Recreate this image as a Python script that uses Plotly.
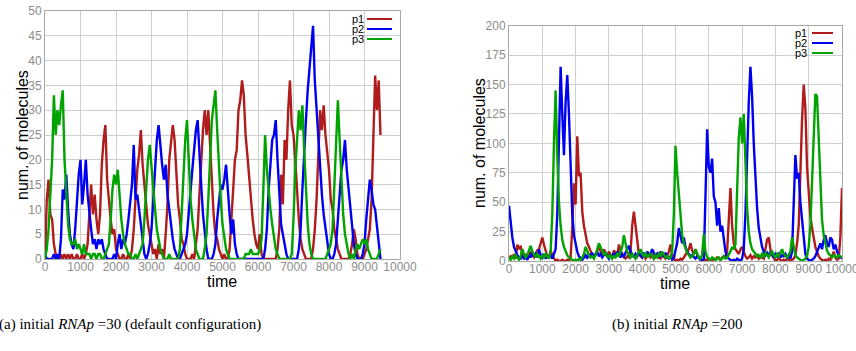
import plotly.graph_objects as go

W, H = 856, 351

# ---------------- data: panel (a) initial RNAp = 30 ----------------
TIME_A = list(range(0, 9451, 50))
P1_A = [0,12,16,9,8,3,1,0,0,1, 0,1,0,1,0,1,0,0,1,0,
        0,1,0,1,3,8,15,9,13,8, 5,9,19,24,27,16,11,8,5,6,
        2,1,0,0,1,0,0,1,0,2, 6,12,18,21,26,19,15,11,7,5,
        3,1,2,0,3,1,2,0,5,11, 20,23,27,24,17,11,8,4,3,1,
        0,0,0,1,0,3,6,13,21,26, 30,25,30,22,16,9,5,4,2,1,
        0,1,0,0,2,8,14,20,22,30, 32,36,33,25,21,16,12,8,5,3,
        2,5,1,0,0,0,0,0,0,0, 0,2,6,17,11,24,20,30,36,27,
        25,20,13,8,4,2,1,0,0,0, 0,2,6,12,22,30,26,31,25,22,
        18,12,10,6,4,2,1,0,0,0, 0,0,1,3,6,4,1,0,0,0,
        1,2,4,6,12,24,37,30,36,25]
P2_A = [1,0,0,0,0,1,0,1,0,4, 14,12,17,10,5,3,2,6,12,17,
        20,11,15,20,13,9,6,3,4,2, 4,3,4,2,1,0,0,0,0,1,
        0,3,5,2,4,3,5,8,12,15, 23,12,13,10,6,3,1,0,1,3,
        6,12,18,24,27,22,19,16,19,13, 10,6,4,2,1,0,0,1,2,3,
        5,10,13,18,22,26,28,20,15,9, 5,2,0,0,0,1,3,8,12,15,
        14,16,19,13,9,5,8,3,1,0, 0,0,0,0,0,0,0,0,0,0,
        0,0,0,0,2,6,14,20,24,25, 28,20,12,7,5,3,1,0,0,0,
        0,0,0,2,6,14,22,28,34,38, 42,47,36,30,24,18,13,9,6,3,
        1,0,0,1,3,8,13,18,20,24, 18,14,10,6,3,1,0,0,0,1,
        3,8,12,16,14,11,10,7,3,0]
P3_A = [0,2,6,13,20,33,25,30,27,31, 34,20,12,7,4,3,3,4,2,3,
        2,1,3,1,1,1,0,1,1,0, 1,1,0,0,1,2,3,8,14,17,
        15,18,12,8,5,3,2,1,1,0, 0,1,0,1,2,3,8,14,20,23,
        18,14,10,6,4,2,1,0,0,0, 1,0,0,0,0,0,2,10,18,24,
        28,20,12,8,5,2,1,0,0,0, 2,5,12,20,28,31,34,26,18,12,
        7,4,2,1,0,0,0,0,0,0, 0,0,0,1,1,1,2,1,1,1,
        1,2,4,14,25,18,13,10,7,4, 2,1,0,0,0,0,0,0,0,1,
        8,18,25,30,26,31,22,14,7,3, 1,0,0,0,0,0,0,0,0,1,
        2,3,6,14,25,32,24,15,9,5, 3,1,0,1,0,2,3,2,3,4,
        3,4,2,1,0,0,0,0,1,2]

# ---------------- data: panel (b) initial RNAp = 200 ----------------
TIME_B = list(range(0, 10001, 50))
P1_B = [2,4,3,5,2,14,10,13,5,3, 6,2,4,8,5,3,6,9,10,15,
        20,14,8,4,3,9,5,2,0,1, 0,0,1,0,0,1,0,3,28,66,
        48,106,72,75,42,30,22,15,12,8, 5,3,6,9,14,8,5,10,6,4,
        8,5,3,9,6,4,14,10,5,3, 2,4,3,8,30,42,28,14,6,4,
        3,5,2,4,6,3,5,2,4,6, 3,2,5,3,2,4,8,14,5,2,
        0,1,0,2,1,3,5,8,10,15, 9,6,10,5,3,2,1,0,1,0,
        2,1,0,2,1,3,2,1,3,4, 3,8,35,62,30,15,10,8,6,10,
        12,8,4,2,3,5,2,4,3,5, 2,4,3,2,10,18,20,10,5,2,
        0,1,2,1,0,1,0,2,1,0, 1,2,5,15,30,85,120,150,130,80,
        55,38,28,18,12,8,4,2,1,0, 1,0,2,1,4,8,3,1,2,20,
        62]
P2_B = [47,30,20,12,8,5,3,2,4,2, 3,1,5,3,8,4,6,3,10,5,
        3,6,2,4,3,5,2,6,10,40, 120,165,125,90,135,158,125,70,40,22,
        14,8,4,2,1,3,5,2,6,4, 7,3,5,8,4,6,3,5,7,4,
        2,5,3,6,4,8,5,3,6,4, 7,10,13,8,5,3,6,4,7,5,
        3,6,4,8,5,6,10,7,4,6, 3,8,5,4,7,3,2,4,1,3,
        8,15,28,22,15,20,12,8,6,4, 5,3,2,4,2,1,0,2,55,112,
        80,75,87,55,50,30,45,25,30,18, 8,3,2,1,0,1,0,2,1,0,
        2,10,40,90,135,165,140,100,70,45, 28,18,12,8,5,7,4,8,5,3,
        6,4,7,3,5,4,6,3,5,2, 8,45,90,70,75,50,35,15,6,2,
        1,0,1,2,4,8,12,15,10,18, 22,15,12,20,18,10,14,8,5,3,
        2]
P3_B = [3,1,4,2,5,3,1,4,10,6, 3,5,9,13,8,5,3,6,4,2,
        5,3,6,4,2,8,40,100,145,90, 50,30,18,12,8,5,3,2,1,0,
        1,0,2,1,3,6,12,8,5,3, 4,2,5,10,15,12,8,5,7,4,
        3,5,2,4,3,6,4,8,12,22, 14,8,5,3,6,4,2,5,8,10,
        6,4,7,3,5,6,4,2,5,3, 6,4,8,5,3,4,2,3,8,40,
        98,75,55,35,22,15,10,7,5,3, 4,6,10,6,3,2,5,23,8,3,
        2,1,3,2,1,2,3,1,2,4, 2,3,5,8,12,10,14,55,105,122,
        100,125,80,45,25,15,10,8,6,4, 5,3,6,4,7,5,3,6,8,5,
        3,6,4,7,10,6,4,3,5,8, 20,12,5,3,2,1,0,1,2,5,
        12,30,70,115,142,140,100,60,35,22, 14,9,6,4,3,5,4,3,5,4,
        3]

SERIES = ["p1", "p2", "p3"]
X_TICKS = list(range(0, 10001, 1000))
X_TICK_TEXT = [str(v) for v in X_TICKS]
Y_TICKS_A = list(range(0, 51, 5))
Y_TICKS_B = list(range(0, 201, 25))
CAPTION_A = "(a) initial <i>RNAp</i> =30 (default configuration)"
CAPTION_B = "(b) initial <i>RNAp</i> =200"

COLORS = {"p1": "#b01c1c", "p2": "#0000f0", "p3": "#00a300"}
SANS = "Liberation Sans, Arial, sans-serif"
SERIF = "Liberation Serif, Times New Roman, serif"


def px(x):
    return x / W


def py(y):
    return 1 - y / H


fig = go.Figure()
for name, ys in zip(SERIES, [P1_A, P2_A, P3_A]):
    fig.add_trace(go.Scatter(x=TIME_A, y=ys, mode="lines", name=name,
                             line=dict(color=COLORS[name], width=2.4),
                             xaxis="x", yaxis="y", showlegend=False))
for name, ys in zip(SERIES, [P1_B, P2_B, P3_B]):
    fig.add_trace(go.Scatter(x=TIME_B, y=ys, mode="lines", name=name,
                             line=dict(color=COLORS[name], width=2.4),
                             xaxis="x2", yaxis="y2", showlegend=False))

axis_common = dict(showgrid=True, gridcolor="#cfcfcf", gridwidth=1,
                   showline=True, linecolor="#a8a8a8", linewidth=1, mirror=True,
                   zeroline=False, ticks="", automargin=False,
                   ticklabeloverflow="allow",
                   tickfont=dict(family=SANS, size=12, color="#8c8c8c"))

fig.update_layout(
    width=W, height=H,
    margin=dict(l=0, r=0, t=0, b=0, autoexpand=False),
    paper_bgcolor="white", plot_bgcolor="white",
    xaxis=dict(domain=[px(45), px(400)], range=[0, 10000], tickvals=X_TICKS,
               ticktext=X_TICK_TEXT, ticklabelstandoff=-3,
               anchor="y", **axis_common),
    yaxis=dict(domain=[py(259), py(11)], range=[0, 50], tickvals=Y_TICKS_A,
               anchor="x", **axis_common),
    xaxis2=dict(domain=[px(509), px(842)], range=[0, 10000], tickvals=X_TICKS,
                ticktext=X_TICK_TEXT, ticklabelstandoff=-3,
                anchor="y2", **axis_common),
    yaxis2=dict(domain=[py(261), py(25.7)], range=[0, 200], tickvals=Y_TICKS_B,
                anchor="x2", **axis_common),
)

annotations = []
shapes = []


def text(x, y, s, size, family=SANS, color="black", angle=0, xanchor="center"):
    annotations.append(dict(x=px(x), y=py(y), xref="paper", yref="paper", text=s,
                            showarrow=False, textangle=angle, xanchor=xanchor,
                            yanchor="middle", borderpad=0,
                            font=dict(family=family, size=size, color=color)))


# axis titles
text(22, 135, "num. of molecules", 16, angle=-90)
text(479, 143, "num. of molecules", 16, angle=-90)
text(222, 281, "time", 16)
text(675, 283, "time", 16)

# captions
text(130, 324, CAPTION_A, 15, family=SERIF)
text(677, 324, CAPTION_B, 15, family=SERIF)


# legends (gnuplot style: label then sample line)
def legend(box, text_right, line_x0, line_x1, ys):
    shapes.append(dict(type="rect", xref="paper", yref="paper",
                       x0=px(box[0]), x1=px(box[1]), y0=py(box[3]), y1=py(box[2]),
                       fillcolor="white", line=dict(width=0), layer="between"))
    for name, y in zip(SERIES, ys):
        text(text_right, y, name, 11, xanchor="right")
        shapes.append(dict(type="line", xref="paper", yref="paper",
                           x0=px(line_x0), x1=px(line_x1), y0=py(y), y1=py(y),
                           line=dict(color=COLORS[name], width=2), layer="above"))


legend((349, 395, 12, 44), 365, 367, 392, [19, 29, 39])
legend((792, 837, 27, 57), 808, 812, 833, [33, 43, 53])

fig.update_layout(annotations=annotations, shapes=shapes)
fig.write_html("out.html", config={"displayModeBar": False},
               post_script="document.body.style.margin='0';document.body.style.padding='0';")
